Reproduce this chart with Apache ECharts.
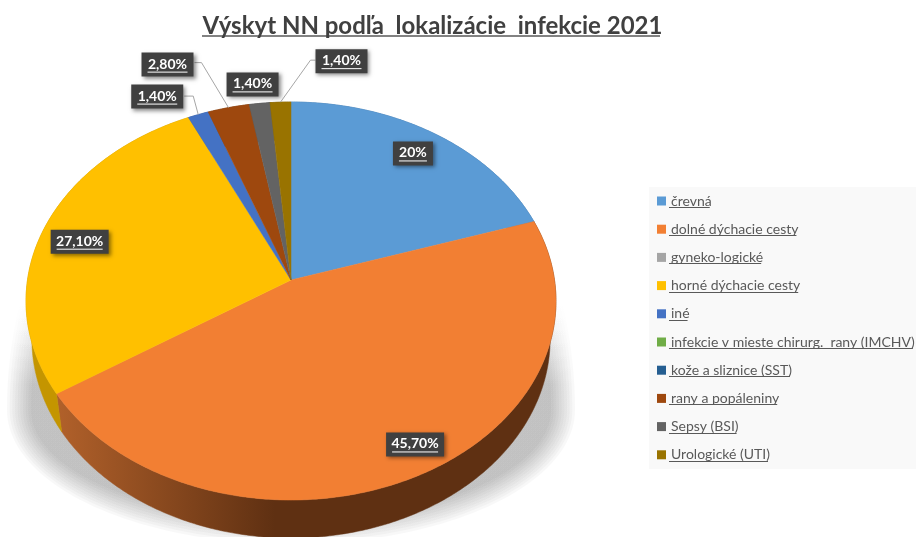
<!DOCTYPE html>
<html><head><meta charset="utf-8">
<style>html,body{margin:0;padding:0;background:#fff}#c{width:916px;height:537px}</style>
<script src="https://cdn.jsdelivr.net/npm/echarts@6/dist/echarts.min.js"></script>
</head><body><div id="c"></div>
<script>
const categories = ['črevná','dolné dýchacie cesty','gyneko-logické','horné dýchacie cesty','iné','infekcie v mieste chirurg.  rany (IMCHV)','kože a sliznice (SST)','rany a popáleniny','Sepsy (BSI)','Urologické (UTI)'];
const values = [20, 45.7, 0, 27.1, 1.4, 0, 0, 2.8, 1.4, 1.4];
const labelTexts = ['20%','45,70%','','27,10%','1,40%','','','2,80%','1,40%','1,40%'];
const colors = ['#5b9bd5','#f27f33','#a5a5a5','#ffc000','#4472c4','#70ad47','#255e91','#9e480e','#636363','#997300'];
const sideColors = ['#3c6f9e','#5f3012','#777777','#c49500','#2d4f8c','#4f7c32','#1a4367','#6d320a','#444444','#6b5000'];
const labelShift = [[-21,20],[-1,-32],null,[35,14],[-41,-18],null,null,[-61,-43],[-7,-19],[61,-41]];
const leaderShift = [null,null,null,null,[[0,0],[-5,-18.5],[-14,-18.5]],null,null,[[0,0],[-27,-45],[-34,-45]],null,[[0,0],[30,-42],[35,-42]]];

const total = values.reduce((a,b)=>a+b,0);
const G = {cx:291, cy:280, a:263.5, b:196.8, k:-0.1056, depth:38, bottomScale:0.978};
function proj(theta, r){
  const u = r*Math.sin(theta), v = r*Math.cos(theta), d = 1 - G.k*v;
  return [G.cx + G.a*u/d, G.cy - G.b*v/d];
}
function arc(t0,t1,dy,sx){
  const n = Math.max(2, Math.ceil((t1-t0)/0.01)), pts = [];
  for(let i=0;i<=n;i++){const p = proj(t0+(t1-t0)*i/n,1); pts.push([G.cx+(p[0]-G.cx)*sx,p[1]+dy]);}
  return pts;
}
const starts = []; values.reduce((acc,v,i)=>{starts[i]=acc; return acc+v;},0);
const FONT = 'Lato, "Open Sans", sans-serif';

function sliceItem(params, api){
  const i = params.seriesIndex - 1, val = api.value(0);
  if(!val) return {type:'group', children:[]};
  const t0 = starts[i]/total*2*Math.PI, t1 = (starts[i]+val)/total*2*Math.PI, tm=(t0+t1)/2;
  const top = arc(t0,t1,0,1), bot = arc(t0,t1,G.depth,G.bottomScale).reverse();
  const sideFill = i===1 ? {type:'linear',global:true,x:60,y:0,x2:275,y2:0,colorStops:[{offset:0,color:'#b0602a'},{offset:1,color:sideColors[i]}]} : sideColors[i];
  const kids = [
    {type:'polygon', z2:1, shape:{points:top.concat(bot)}, style:{fill:sideFill, stroke:sideFill, lineWidth:0.5}},
    {type:'polygon', z2:5, shape:{points:[[G.cx,G.cy]].concat(top)}, style:{fill:colors[i], stroke:colors[i], lineWidth:0.5}}
  ];
  const rim = proj(tm,1), s = labelShift[i], txt = labelTexts[i];
  if(leaderShift[i]) kids.push({type:'polyline', z2:20, shape:{points:leaderShift[i].map(o=>[rim[0]+o[0],rim[1]+o[1]])}, style:{fill:'none',stroke:'#a6a6a6',lineWidth:1}});
  const lx = rim[0]+s[0], ly = rim[1]+s[1], w = txt.length>3 ? (txt.length>5?58:52) : 40, h = 24;
  kids.push({type:'rect', z2:30, shape:{x:lx-w/2,y:ly-h/2,width:w,height:h}, style:{fill:'#404040',shadowBlur:4,shadowOffsetX:2,shadowOffsetY:2,shadowColor:'rgba(0,0,0,0.45)'}});
  kids.push({type:'text', z2:31, style:{x:lx,y:ly-0.5,text:txt,fill:'#fff',font:'bold 14px '+FONT,align:'center',verticalAlign:'middle'}});
  const tw = w-12;
  kids.push({type:'line', z2:31, shape:{x1:lx-tw/2,y1:ly+7.5,x2:lx+tw/2,y2:ly+7.5}, style:{stroke:'#fff',lineWidth:1}});
  return {type:'group', children:kids};
}
function shadowItem(){
  const kids = [], N = 10, S = {cx:291, cy:410, rx:284, ryTop:360, ryBottom:134, spread:24};
  for(let j=0;j<N;j++){
    const f = j/(N-1), rx = S.rx-S.spread*f, rb = S.ryBottom-S.spread*f, pts = [];
    for(let a=0;a<360;a+=2){
      const t = a*Math.PI/180, sn = Math.sin(t), cs = Math.cos(t);
      pts.push([S.cx+rx*cs, S.cy+(sn>0?rb:S.ryTop)*sn]);
    }
    kids.push({type:'polygon', z2:0, shape:{points:pts},
      style:{fill:{type:'linear',global:true,x:0,y:300,x2:0,y2:385,colorStops:[{offset:0,color:'rgba(0,0,0,0)'},{offset:1,color:'rgba(0,0,0,0.026)'}]}}});
  }
  return {type:'group', children:kids, silent:true};
}
const series = [{type:'custom', name:'tieň', coordinateSystem:'none', silent:true, data:[[1]], renderItem:shadowItem}];
categories.forEach((c,i)=>series.push({type:'custom', name:c, coordinateSystem:'none', silent:true, itemStyle:{color:colors[i]}, data:[[values[i]]], encode:{value:0}, renderItem:sliceItem}));

const LEG = {x:649, y:187, w:267, h:282, rowStart:201, rowStep:28.2, textX:669, font:14, ulDy:6};
const mctx = document.createElement('canvas').getContext('2d');
mctx.font = LEG.font+'px '+FONT;
const graphicEls = [
  {type:'rect', z:-1, shape:{x:LEG.x,y:LEG.y,width:LEG.w,height:LEG.h}, style:{fill:'#f9f9f9'}},
  {type:'line', shape:{x1:202,y1:36,x2:660,y2:36}, style:{stroke:'#595959',lineWidth:1.5}}
];
categories.forEach((c,i)=>{
  const y = Math.round(LEG.rowStart+LEG.rowStep*i+LEG.ulDy)+0.5;
  graphicEls.push({type:'line', z:10, shape:{x1:LEG.textX,y1:y,x2:Math.min(916,LEG.textX+mctx.measureText(c).width),y2:y}, style:{stroke:'#595959',lineWidth:1}});
});
const chart = echarts.init(document.getElementById('c'), null, {renderer:'canvas'});
chart.setOption({
  animation:false,
  backgroundColor:'#fff',
  title:{text:'Výskyt NN podľa  lokalizácie  infekcie 2021', left:427.5, textAlign:'center', top:9, textStyle:{fontFamily:FONT,fontWeight:'bold',fontSize:24,color:'#404040'}},
  legend:{orient:'vertical', left:657, top:194, padding:0, itemWidth:9, itemHeight:9, itemGap:28.2-14, itemStyle:{borderWidth:0}, icon:'rect', itemTextGap:1, selectedMode:false,
    data:categories, textStyle:{fontFamily:FONT,fontSize:LEG.font,color:'#595959',lineHeight:14,padding:[0,0,0,0]}},
  graphic:{elements:graphicEls},
  series:series
});
</script></body></html>
